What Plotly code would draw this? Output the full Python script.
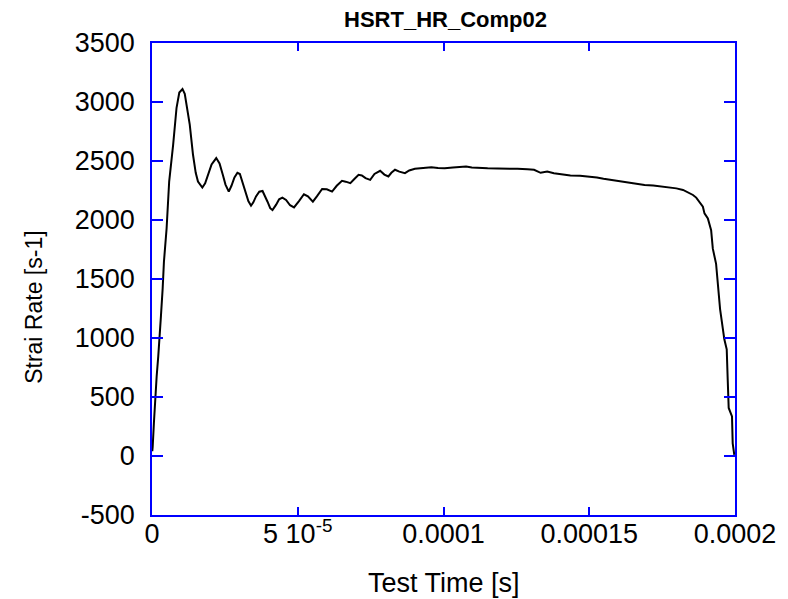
import plotly.graph_objects as go

# Time in microseconds (converted to seconds below) and strain rate [s-1]
time_us = [0.1, 0.24, 0.65, 1.02, 1.60, 2.15, 2.73, 3.07, 3.65, 4.09, 5.01, 5.89, 7.26, 8.42, 9.37,
           10.46, 11.24, 12.10, 12.95, 14.07, 15.0, 15.77, 17.27, 18.23, 19.18, 20.44, 22.04, 23.17,
           24.29, 25.21, 26.34, 27.26, 28.28, 29.30, 30.15, 31.0, 32.03, 33.05, 33.97, 34.76, 35.68,
           36.80, 37.92, 38.84, 39.63, 40.55, 41.33, 42.59, 43.61, 44.73, 45.99, 47.36, 48.72, 50.42,
           52.12, 53.49, 55.19, 56.56, 58.36, 59.97, 61.77, 63.37, 65.18, 66.44, 68.04, 69.50, 70.87,
           71.99, 73.25, 74.85, 76.32, 78.26, 79.72, 81.09, 82.11, 83.37, 84.84, 86.78, 88.24, 90.19,
           93.01, 95.84, 98.12, 100.40, 103.23, 105.61, 107.76, 109.70, 111.75, 115.15, 118.56,
           121.97, 125.38, 128.78, 131.07, 133.31, 135.60, 137.88, 140.70, 143.53, 146.84, 150.35,
           152.63, 154.91, 157.74, 160.57, 163.19, 166.26, 168.98, 171.95, 174.77, 177.60, 179.89,
           182.17, 184.42, 185.58, 186.70, 187.82, 188.98, 189.53, 190.69, 191.81, 192.39, 193.51,
           194.09, 194.88, 196.34, 197.16, 197.50, 197.84, 198.97, 199.21, 199.76]
strain_rate = [40, 80, 278, 478, 676, 847, 1018, 1188, 1416, 1644, 1928, 2326, 2638, 2951, 3080,
               3110, 3070, 2950, 2809, 2553, 2400, 2326, 2275, 2310, 2383, 2470, 2525, 2480,
               2383, 2300, 2241, 2290, 2360, 2400, 2390, 2320, 2241, 2160, 2121, 2150, 2200,
               2240, 2246, 2200, 2155, 2100, 2084, 2130, 2175, 2190, 2170, 2125, 2107, 2160,
               2218, 2200, 2155, 2200, 2263, 2260, 2241, 2290, 2332, 2325, 2312, 2350, 2383,
               2378, 2355, 2340, 2390, 2417, 2385, 2369, 2400, 2426, 2410, 2397, 2420, 2434,
               2440, 2446, 2440, 2438, 2445, 2448, 2454, 2445, 2440, 2438, 2436,
               2437, 2434, 2430, 2426, 2400, 2410, 2397, 2388, 2378, 2374, 2369,
               2360, 2349, 2338, 2326, 2315, 2303, 2296, 2292, 2285, 2275, 2268,
               2255, 2230, 2212, 2190, 2155, 2113, 2056, 2013, 1913, 1757, 1629,
               1473, 1245, 989, 904, 648, 407, 335, 107, 9]
time_s = [t * 1e-6 for t in time_us]

x_tickvals = [0, 5e-5, 1e-4, 1.5e-4, 2e-4]
x_ticktext = ["0", "5 10<sup>-5</sup>", "0.0001", "0.00015", "0.0002"]
y_tickvals = [-500, 0, 500, 1000, 1500, 2000, 2500, 3000, 3500]
y_ticktext = ["-500", "0", "500", "1000", "1500", "2000", "2500", "3000", "3500"]

FONT = "Arial, Liberation Sans, sans-serif"
BLUE = "#0000ff"

# page body has an 8px margin, so the figure is offset by 8px
OFF = 8
L, T, PW, PH = 152 - OFF, 43 - OFF, 587, 472
W, H = 788 - OFF, 599 - OFF

fig = go.Figure()
fig.add_trace(go.Scatter(x=time_s, y=strain_rate, mode="lines",
                         line=dict(color="black", width=2), showlegend=False))

fig.update_layout(
    width=W, height=H,
    margin=dict(l=L, r=W - L - PW, t=T, b=H - T - PH),
    paper_bgcolor="white", plot_bgcolor="white",
    font=dict(family=FONT, color="black"),
    title=dict(text="<b>HSRT_HR_Comp02</b>", x=(L + PW / 2) / W, xanchor="center",
               y=1 - (19 - OFF) / H, yanchor="middle",
               font=dict(size=22, family=FONT, color="black")),
    annotations=[
        dict(text="Test Time [s]", xref="paper", yref="paper", x=0.5, y=(515 - 583) / PH,
             xanchor="center", yanchor="middle", showarrow=False,
             font=dict(size=27, family=FONT, color="black")),
        dict(text="Strai Rate [s-1]", xref="paper", yref="paper", x=(33 - 152) / PW,
             y=(515 - 307) / PH, xanchor="center", yanchor="middle", textangle=-90,
             showarrow=False, font=dict(size=23, family=FONT, color="black")),
    ],
)
fig.update_xaxes(range=[0, 2e-4], tickvals=x_tickvals, ticktext=x_ticktext,
                 showgrid=False, zeroline=False, showline=True, linecolor=BLUE, linewidth=1.5,
                 mirror="ticks", ticks="inside", ticklen=8, tickcolor=BLUE, tickwidth=1.5,
                 tickfont=dict(size=27, family=FONT, color="black"), ticklabelstandoff=-6)
fig.update_yaxes(range=[-500, 3500], tickvals=y_tickvals, ticktext=y_ticktext,
                 showgrid=False, zeroline=False, showline=True, linecolor=BLUE, linewidth=1.5,
                 mirror="ticks", ticks="inside", ticklen=11, tickcolor=BLUE, tickwidth=1.5,
                 tickfont=dict(size=27, family=FONT, color="black"), ticklabelstandoff=10)

fig.write_html("out.html")
